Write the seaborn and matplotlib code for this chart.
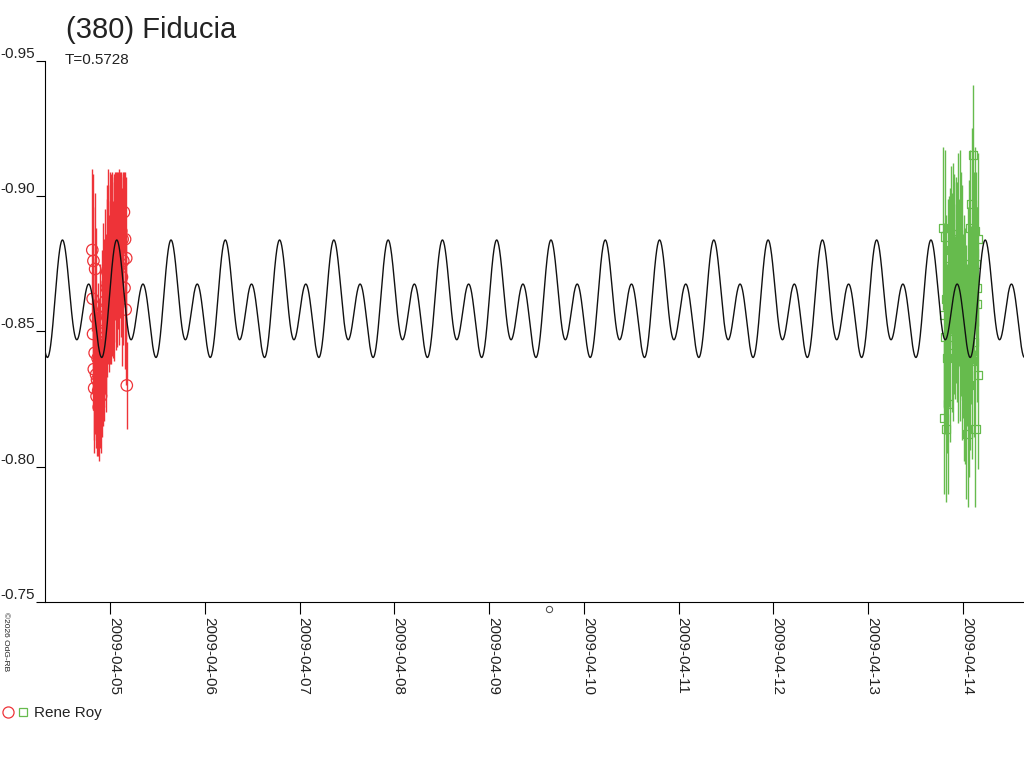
import numpy as np
import pandas as pd
import matplotlib
matplotlib.use("Agg")
import matplotlib.pyplot as plt
import seaborn as sns
from matplotlib.lines import Line2D
from matplotlib.legend_handler import HandlerTuple

# --- data (times in days from 2009-04-05 00:00 UT) ---
title = "(380) Fiducia"
period = 0.5728
period_label = "T=0.5728"
observer = "Rene Roy"
credit = "\u00a92026 OdG-RB"

# Fourier model of the lightcurve (phase 0 = main maximum)
epoch = -0.507
fourier_c0 = -0.8598
fourier_cos = [-0.00815, -0.01568]
fourier_sin = [-0.0033, 0.0]
model_span = [-0.687, 9.644]

red_t = [-0.188, -0.184, -0.180, -0.176, -0.172, -0.168, -0.163, -0.158, -0.153, -0.148,
         -0.143, -0.138, -0.132, -0.126, -0.120, -0.114, -0.108, -0.102, -0.096, -0.090,
         -0.084, -0.078, -0.072, -0.066, -0.060, -0.054, -0.048, -0.042, -0.036,
         -0.030, -0.024, -0.018, -0.012, -0.006, 0.000, 0.006, 0.012, 0.018, 0.024,
         0.030, 0.036, 0.042, 0.048,
         0.055, 0.062, 0.069, 0.076, 0.083, 0.090, 0.097, 0.104, 0.111, 0.118,
         0.125, 0.132, 0.139, 0.146, 0.152, 0.158, 0.164, 0.170, 0.176]
red_mag = [-0.880, -0.862, -0.849, -0.876, -0.836, -0.829, -0.842, -0.873, -0.855, -0.834,
           -0.826, -0.832, -0.840, -0.828, -0.822, -0.835, -0.830, -0.845, -0.826, -0.838,
           -0.850, -0.842, -0.858, -0.846, -0.853, -0.861, -0.848, -0.856, -0.866,
           -0.872, -0.868, -0.876, -0.864, -0.880, -0.871, -0.878, -0.866, -0.874, -0.883,
           -0.869, -0.877, -0.872, -0.881,
           -0.885, -0.876, -0.889, -0.871, -0.880, -0.886, -0.874, -0.882, -0.878, -0.887,
           -0.870, -0.884, -0.876, -0.894, -0.866, -0.884, -0.858, -0.877, -0.830]
red_err = [0.030, 0.034, 0.028, 0.032, 0.026, 0.024, 0.030, 0.028, 0.033, 0.027,
           0.022, 0.025, 0.028, 0.024, 0.020, 0.026, 0.023, 0.030, 0.021, 0.027,
           0.030, 0.027, 0.032, 0.029, 0.031, 0.034, 0.028, 0.030, 0.033,
           0.032, 0.030, 0.034, 0.029, 0.029, 0.033, 0.030, 0.028, 0.033, 0.026,
           0.029, 0.031, 0.033, 0.027,
           0.024, 0.033, 0.020, 0.027, 0.029, 0.024, 0.029, 0.027, 0.030, 0.022,
           0.033, 0.025, 0.031, 0.015, 0.030, 0.025, 0.028, 0.030, 0.016]

green_t = [8.790, 8.796, 8.802, 8.808, 8.814, 8.820, 8.826, 8.832, 8.838, 8.844, 8.850,
           8.856, 8.862, 8.868, 8.874, 8.880, 8.886, 8.892, 8.898, 8.904, 8.910, 8.916, 8.922, 8.928,
           8.934, 8.940, 8.946, 8.952, 8.958, 8.964, 8.970, 8.976, 8.982, 8.988, 8.994, 9.000,
           9.006, 9.012, 9.018,
           9.024, 9.030, 9.036, 9.042, 9.048, 9.054, 9.060, 9.066, 9.072, 9.078, 9.084, 9.090,
           9.096, 9.102, 9.108, 9.114, 9.120, 9.126, 9.132, 9.138, 9.144, 9.150, 9.156, 9.162]
green_mag = [-0.888, -0.856, -0.818, -0.885, -0.848, -0.814, -0.862, -0.840, -0.870, -0.823, -0.852,
             -0.866, -0.874, -0.845, -0.880, -0.858, -0.871, -0.850, -0.884, -0.862, -0.876, -0.855,
             -0.868, -0.878,
             -0.872, -0.860, -0.886, -0.850, -0.868, -0.880, -0.846, -0.874, -0.858, -0.866, -0.840,
             -0.852, -0.862, -0.838, -0.855,
             -0.836, -0.850, -0.826, -0.845, -0.812, -0.860, -0.830, -0.875, -0.843, -0.888, -0.856,
             -0.897, -0.839, -0.870, -0.915, -0.879, -0.846, -0.887, -0.814, -0.875, -0.866, -0.860,
             -0.884, -0.834]
green_err = [0.030, 0.034, 0.028, 0.032, 0.036, 0.027, 0.031, 0.035, 0.029, 0.033, 0.030,
             0.034, 0.029, 0.036, 0.031, 0.038, 0.030, 0.033, 0.028, 0.035, 0.032, 0.030, 0.037, 0.029,
             0.033, 0.036, 0.030, 0.034, 0.031, 0.037, 0.029, 0.035, 0.032, 0.038, 0.030, 0.034,
             0.031, 0.036, 0.033,
             0.035, 0.032, 0.038, 0.030, 0.027, 0.036, 0.034, 0.031, 0.037, 0.029, 0.033, 0.028,
             0.036, 0.032, 0.026, 0.030, 0.035, 0.031, 0.029, 0.034, 0.030, 0.036, 0.032, 0.035]

stray_t = [4.627]
stray_mag = [-0.7474]

tick_days = list(range(10))
tick_labels = ["2009-04-05", "2009-04-06", "2009-04-07", "2009-04-08", "2009-04-09",
               "2009-04-10", "2009-04-11", "2009-04-12", "2009-04-13", "2009-04-14"]
ytick_vals = [-0.95, -0.90, -0.85, -0.80, -0.75]
ytick_labels = ["-0.95", "-0.90", "-0.85", "-0.80", "-0.75"]

RED = "#ee3338"
GREEN = "#66bb4d"

base = pd.Timestamp("2009-04-05")


def to_date(days):
    return base + pd.to_timedelta(np.asarray(days, dtype=float), unit="D")


# model curve from the Fourier coefficients
model_t = np.linspace(model_span[0], model_span[1], 4000)
phase = (model_t - epoch) / period
model_mag = np.full_like(model_t, fourier_c0)
for k, (a, b) in enumerate(zip(fourier_cos, fourier_sin), start=1):
    model_mag += a * np.cos(2 * np.pi * k * phase) + b * np.sin(2 * np.pi * k * phase)

sns.set_theme(style="ticks")
plt.rcParams["font.family"] = ["Liberation Sans", "DejaVu Sans"]

fig = plt.figure(figsize=(10.24, 7.68), dpi=100)
ax = fig.add_axes([45 / 1024, 1 - 602 / 768, 979 / 1024, (602 - 60.5) / 768])

# observations
sns.scatterplot(x=to_date(red_t), y=red_mag, marker="o", s=68, facecolor="none",
                edgecolor=RED, linewidth=0.9, ax=ax, zorder=1)
ax.errorbar(to_date(red_t), red_mag, yerr=red_err, fmt="none", ecolor=RED,
            elinewidth=1.0, capsize=0, zorder=2)
sns.scatterplot(x=to_date(green_t), y=green_mag, marker="s", s=34, facecolor="none",
                edgecolor=GREEN, linewidth=0.9, ax=ax, zorder=1)
ax.errorbar(to_date(green_t), green_mag, yerr=green_err, fmt="none", ecolor=GREEN,
            elinewidth=1.0, capsize=0, zorder=2)

# model
sns.lineplot(x=to_date(model_t), y=model_mag, color="#111111", linewidth=1.0,
             estimator=None, ax=ax, zorder=3)

ax.plot(to_date(stray_t), stray_mag, "o", ms=4.5, mfc="none", mec="#444444",
        mew=0.7, clip_on=False)

ax.set_xlim(to_date([model_span[0]])[0], to_date([model_span[1]])[0])
ax.set_ylim(-0.75, -0.95)
ax.set_xticks(to_date(tick_days))
ax.set_xticklabels(tick_labels)
ax.set_yticks(ytick_vals)
ax.set_yticklabels(ytick_labels)
ax.set_xlabel("")
ax.set_ylabel("")

sns.despine(ax=ax)
for side in ("left", "bottom"):
    ax.spines[side].set_color("black")
    ax.spines[side].set_linewidth(0.8)
ax.tick_params(axis="x", direction="out", length=8.5, width=0.8, pad=2,
               labelsize=11, color="black", labelcolor="#222222")
ax.tick_params(axis="y", direction="out", length=6.5, width=0.8, pad=0.5,
               labelsize=11, color="black", labelcolor="#222222")
for lab in ax.get_xticklabels():
    lab.set_rotation(-90)
    lab.set_rotation_mode("anchor")
    lab.set_horizontalalignment("left")
    lab.set_verticalalignment("baseline")
for lab in ax.get_yticklabels():
    lab.set_verticalalignment("bottom")

fig.text(66 / 1024, 1 - 38 / 768, title, fontsize=21, color="#222222", va="baseline")
fig.text(65 / 1024, 1 - 64 / 768, period_label, fontsize=11, color="#222222", va="baseline")
fig.text(2 / 1024, 1 - 612 / 768, credit, fontsize=6, rotation=-90, ha="left", va="top",
         color="#222222")

h_red = Line2D([], [], marker="o", ls="", mfc="none", mec=RED, ms=8, mew=0.9)
h_green = Line2D([], [], marker="s", ls="", mfc="none", mec=GREEN, ms=6, mew=0.9)
fig.legend(handles=[(h_red, h_green)], labels=[observer],
           handler_map={tuple: HandlerTuple(ndivide=None, pad=0.3)},
           loc="center left", bbox_to_anchor=(0.0, 1 - 713 / 768), frameon=False,
           fontsize=11, handlelength=1.6, handletextpad=0.45, borderpad=0,
           borderaxespad=0.2, labelcolor="#222222")

fig.savefig("out.png", dpi=100)
